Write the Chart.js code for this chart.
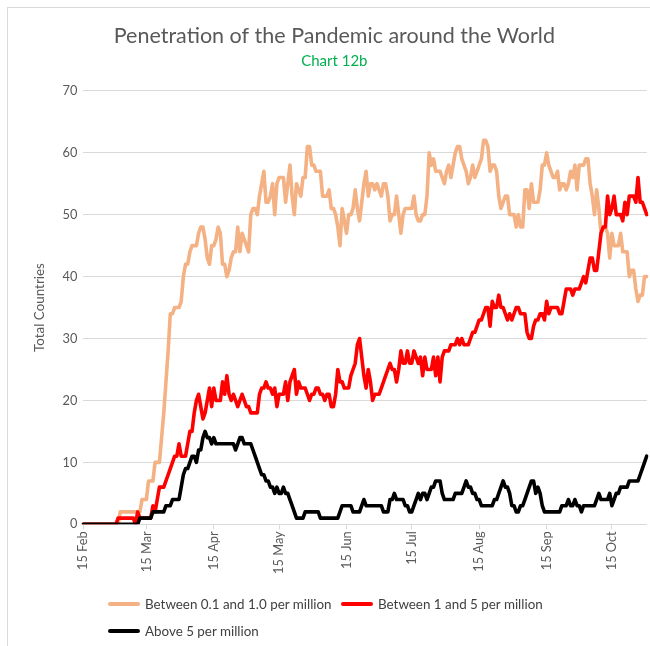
<!DOCTYPE html>
<html>
<head>
<meta charset="utf-8">
<script src="https://cdn.jsdelivr.net/npm/chart.js@4.4.1/dist/chart.umd.min.js"></script>
<style>
  html, body { margin: 0; padding: 0; background: #ffffff; }
  body { width: 650px; height: 646px; overflow: hidden; position: relative; font-family: Lato, "Liberation Sans", sans-serif; }
  #frame { position: absolute; left: 7px; top: 7px; width: 700px; height: 700px; border-left: 1px solid #d9d9d9; border-top: 1px solid #d9d9d9; }
  #wrap { position: absolute; left: 0; top: 0; width: 650px; height: 646px; }
  .leg { position: absolute; display: flex; align-items: center; font-size: 13.4px; color: #404040; white-space: nowrap; }
  .leg span.l { display: inline-block; width: 32px; height: 4px; border-radius: 2px; margin-right: 5px; }
</style>
</head>
<body>
<div id="frame"></div>
<div id="wrap"><canvas id="c" width="650" height="646"></canvas></div>
<div id="legend"></div>
<script>
// ---- data ----
const monthNames = ['Jan','Feb','Mar','Apr','May','Jun','Jul','Aug','Sep','Oct','Nov','Dec'];
const tickLabels = ['15 Feb','15 Mar','15 Apr','15 May','15 Jun','15 Jul','15 Aug','15 Sep','15 Oct'];
const seriesNames = ['Between 0.1 and 1.0 per million','Between 1 and 5 per million','Above 5 per million'];

// daily, 15 Feb 2020 .. 31 Oct 2020
const low = [
  0,0,0,0,0,0,0,0,0,0,
  0,0,0,0,0,0,0,2,2,2,
  2,2,2,2,2,2,2,4,4,4,
  7,7,7,10,10,10,14,18,23,28,
  34,34,35,35,35,36,40,42,42,44,
  45,45,45,47,48,48,46,43,42,45,
  45,46,48,47,42,42,40,41,43,44,
  44,48,44,47,46,45,44,50,51,51,
  50,53,55,57,52,52,53,55,50,55,
  56,56,56,52,55,58,53,50,55,54,
  53,56,56,61,61,58,58,57,57,57,
  53,53,53,54,51,51,50,48,45,51,
  49,47,50,50,51,54,51,49,52,55,
  57,53,55,55,54,55,54,53,55,55,
  53,49,50,50,53,50,47,50,51,51,
  51,51,53,50,49,49,50,50,53,60,
  58,59,57,57,57,56,55,57,58,56,
  58,60,61,61,59,58,57,55,56,58,
  56,57,58,59,62,62,61,57,58,58,
  57,53,51,52,53,53,50,50,50,48,
  50,48,48,54,54,51,55,52,52,52,
  54,58,58,60,58,57,56,56,57,54,
  55,55,54,55,57,56,58,54,58,58,
  58,59,59,55,53,50,54,51,47,48,
  48,47,43,47,45,45,45,47,44,44,
  44,40,41,41,38,36,37,37,40,40
];
const mid = [
  0,0,0,0,0,0,0,0,0,0,
  0,0,0,0,0,0,1,1,1,1,
  1,1,1,1,0,2,1,1,1,1,
  1,1,3,2,4,6,6,6,7,8,
  9,10,11,11,13,11,11,11,13,15,
  15,18,20,21,19,17,18,20,22,19,
  22,20,20,20,23,21,24,21,20,21,
  20,19,20,21,20,19,19,18,18,18,
  18,21,22,22,23,22,22,21,22,19,
  21,21,21,23,20,23,24,25,21,23,
  22,22,22,21,20,21,21,22,22,21,
  21,20,21,21,19,19,21,25,23,23,
  22,22,22,24,25,26,29,30,27,24,
  22,25,23,20,21,21,21,22,23,24,
  25,26,25,25,23,25,28,26,26,28,
  26,26,28,27,26,27,24,27,25,25,
  25,27,24,27,23,27,28,28,28,29,
  29,29,30,29,30,29,29,29,30,31,
  31,32,33,33,34,35,35,32,36,35,
  35,37,35,35,34,33,34,33,34,35,
  35,34,34,34,31,30,30,32,33,33,
  34,34,33,36,34,35,35,35,35,34,
  34,36,38,38,38,37,38,38,38,39,
  40,39,41,43,43,41,41,44,47,48,
  48,53,50,51,53,50,50,50,49,52,
  50,53,53,53,52,56,52,52,51,50
];
const high = [
  0,0,0,0,0,0,0,0,0,0,
  0,0,0,0,0,0,0,0,0,0,
  0,0,0,0,0,0,1,1,1,1,
  1,1,2,2,2,2,2,2,3,3,
  3,4,4,4,4,6,8,9,9,10,
  11,11,10,12,12,14,15,14,14,13,
  14,13,13,13,13,13,13,13,13,13,
  12,13,14,14,13,13,13,13,12,11,
  10,9,8,8,7,7,6,6,5,6,
  5,5,6,5,5,4,3,2,1,1,
  1,1,2,2,2,2,2,2,2,1,
  1,1,1,1,1,1,1,1,2,3,
  3,3,3,3,2,2,2,2,3,4,
  3,3,3,3,3,3,3,3,2,2,
  2,4,4,5,4,4,4,4,3,3,
  2,2,3,4,5,4,5,5,4,5,
  6,6,7,7,7,5,4,4,4,4,
  4,5,5,5,5,6,7,6,6,5,
  5,4,4,3,3,3,3,3,3,4,
  4,5,6,7,6,6,5,3,3,2,
  2,3,3,4,5,6,7,7,5,6,
  5,3,2,2,2,2,2,2,2,2,
  3,3,3,4,3,3,4,3,3,2,
  3,3,3,3,3,3,4,5,4,4,
  4,4,5,3,4,5,5,6,6,6,
  6,7,7,7,7,7,8,9,10,11
];

// category labels: one per day
const dates = [];
for (let i = 0; i < low.length; i++) {
  const d = new Date(Date.UTC(2020, 1, 15 + i));
  dates.push(d.getUTCDate() + ' ' + monthNames[d.getUTCMonth()]);
}

const colors = ['#F4B183', '#FF0000', '#000000'];
const gray = '#595959';
const fontFamily = 'Lato, "Liberation Sans", sans-serif';

const lineDs = (label, data, color, order) => ({
  label, data, borderColor: color, backgroundColor: color,
  borderWidth: 3.6, pointRadius: 0, tension: 0, fill: false,
  borderJoinStyle: 'round', borderCapStyle: 'round', order
});

new Chart(document.getElementById('c'), {
  type: 'line',
  data: {
    labels: dates,
    datasets: [
      lineDs(seriesNames[0], low, colors[0], 2),
      lineDs(seriesNames[1], mid, colors[1], 1),
      lineDs(seriesNames[2], high, colors[2], 0)
    ]
  },
  options: {
    responsive: false,
    animation: false,
    events: [],
    layout: { padding: { left: 22, right: 3.3, top: 0, bottom: 71.7 } },
    plugins: {
      legend: { display: false },
      tooltip: { enabled: false },
      title: {
        display: true,
        text: 'Penetration of the Pandemic around the World',
        color: gray,
        font: { family: fontFamily, size: 21.5, weight: 'normal' },
        padding: { top: 23, bottom: 3 }
      },
      subtitle: {
        display: true,
        text: 'Chart 12b',
        color: '#00B050',
        font: { family: fontFamily, size: 15, weight: 'normal' },
        padding: { top: 0, bottom: 21 }
      }
    },
    scales: {
      x: {
        type: 'category',
        offset: false,
        afterBuildTicks: (scale) => {
          scale.ticks = scale.ticks.filter(t => tickLabels.includes(dates[t.value]));
        },
        afterFit: (scale) => { scale.height = 50; },
        ticks: {
          autoSkip: false, minRotation: 90, maxRotation: 90,
          color: gray, padding: 2,
          font: { family: fontFamily, size: 12.8 }
        },
        grid: { display: true, drawOnChartArea: false, drawTicks: true, tickLength: 5, color: '#d9d9d9' },
        border: { display: true, color: '#d9d9d9' }
      },
      y: {
        min: 0, max: 70,
        afterFit: (scale) => { scale.width = 61.3; },
        ticks: { stepSize: 10, color: gray, padding: 6, font: { family: fontFamily, size: 12.8 } },
        grid: { color: '#d9d9d9', drawTicks: false, lineWidth: 1 },
        border: { display: false },
        title: {
          display: true, text: 'Total Countries', color: gray,
          font: { family: fontFamily, size: 13.4 },
          padding: { top: 10, bottom: 0 }
        }
      }
    }
  }
});

// legend (HTML), built from the series names and colours
const legendItems = [
  { i: 0, left: 108, top: 596 },
  { i: 1, left: 341, top: 596 },
  { i: 2, left: 108, top: 623 }
];
const legendEl = document.getElementById('legend');
legendItems.forEach(it => {
  const div = document.createElement('div');
  div.className = 'leg';
  div.style.left = it.left + 'px';
  div.style.top = it.top + 'px';
  div.style.height = '16px';
  const ln = document.createElement('span');
  ln.className = 'l';
  ln.style.background = colors[it.i];
  const tx = document.createElement('span');
  tx.textContent = seriesNames[it.i];
  div.appendChild(ln); div.appendChild(tx);
  legendEl.appendChild(div);
});
</script>
</body>
</html>
